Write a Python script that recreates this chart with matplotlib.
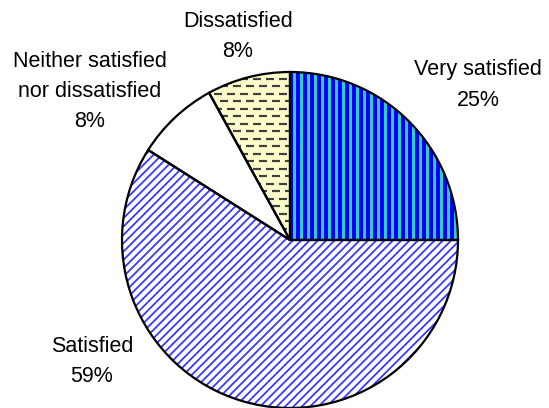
import numpy as np
import matplotlib
matplotlib.use("Agg")
import matplotlib.pyplot as plt
from matplotlib.collections import LineCollection

# ---- data ----
categories = ["Very satisfied", "Satisfied", "Neither satisfied\nnor dissatisfied", "Dissatisfied"]
values = [25, 59, 8, 8]
pct_labels = ["25%", "59%", "8%", "8%"]

# ---- styles ----
face_colors = ["#0000FF", "#FFFFFF", "#FFFFFF", "#FFFFCC"]

plt.rcParams['font.family'] = ['Liberation Sans', 'DejaVu Sans']

W, H = 549, 408
fig = plt.figure(figsize=(W / 100, H / 100), dpi=100)
ax = fig.add_axes([0, 0, 1, 1])

cx, cy, R = 290, H - 240, 168

wedges, _ = ax.pie(values, startangle=90, counterclock=False, center=(cx, cy),
                   radius=R, colors=face_colors, frame=True,
                   wedgeprops=dict(linewidth=0))

# Satisfied: diagonal blue hatch
w_sat = wedges[1]
w_sat.set_hatch('////')
w_sat.set_edgecolor('#3838FF')
w_sat.set_linewidth(0)
if hasattr(w_sat, 'set_hatch_linewidth'):
    w_sat.set_hatch_linewidth(1.3)
else:
    plt.rcParams['hatch.linewidth'] = 1.3

# Very satisfied: cyan vertical stripes on blue
w_vs = wedges[0]
xs = np.arange(cx + 3.5, cx + R + 7, 7.0)
segs = [[(x, cy - 2), (x, cy + R + 2)] for x in xs]
lc = LineCollection(segs, colors='#33CCCC', linewidths=3 * 0.72, zorder=3)
ax.add_collection(lc)
lc.set_clip_path(w_vs)

# Dissatisfied: dark dashes on light yellow
w_d = wedges[3]
angs = np.deg2rad([w_d.theta1, w_d.theta2])
xmin = cx + R * np.cos(angs).min() - 15
dash, period, rowstep = 8.0, 13.0, 7.5
dsegs = []
for i, y in enumerate(np.arange(cy + 4, cy + R + 4, rowstep)):
    off = 0 if i % 2 == 0 else period / 2
    for x in np.arange(xmin + off, cx + period, period):
        dsegs.append([(x, y), (x + dash, y)])
dl = LineCollection(dsegs, colors='#404040', linewidths=2.2 * 0.72, zorder=3)
ax.add_collection(dl)
dl.set_clip_path(w_d)

# Black outlines
outline, _ = ax.pie(values, startangle=90, counterclock=False, center=(cx, cy),
                    radius=R, colors=['none'] * len(values), frame=True,
                    wedgeprops=dict(linewidth=1.6, edgecolor='black', fill=False))
for o in outline:
    o.set_zorder(4)

# Labels (line baselines in pixels from top)
label_pos = [
    (478, [75.5, 106.5]),
    (92, [352, 382]),
    (90, [67, 97, 127]),
    (238, [27, 57]),
]
fs = 15.5
for cat, pct, (x, ys) in zip(categories, pct_labels, label_pos):
    lines = cat.split("\n") + [pct]
    for ln, yb in zip(lines, ys):
        ax.text(x, H - yb, ln, ha='center', va='baseline', fontsize=fs, color='black')

ax.set_xlim(0, W)
ax.set_ylim(0, H)
ax.set_aspect('equal')
ax.axis('off')

fig.savefig("out.png", dpi=100)
